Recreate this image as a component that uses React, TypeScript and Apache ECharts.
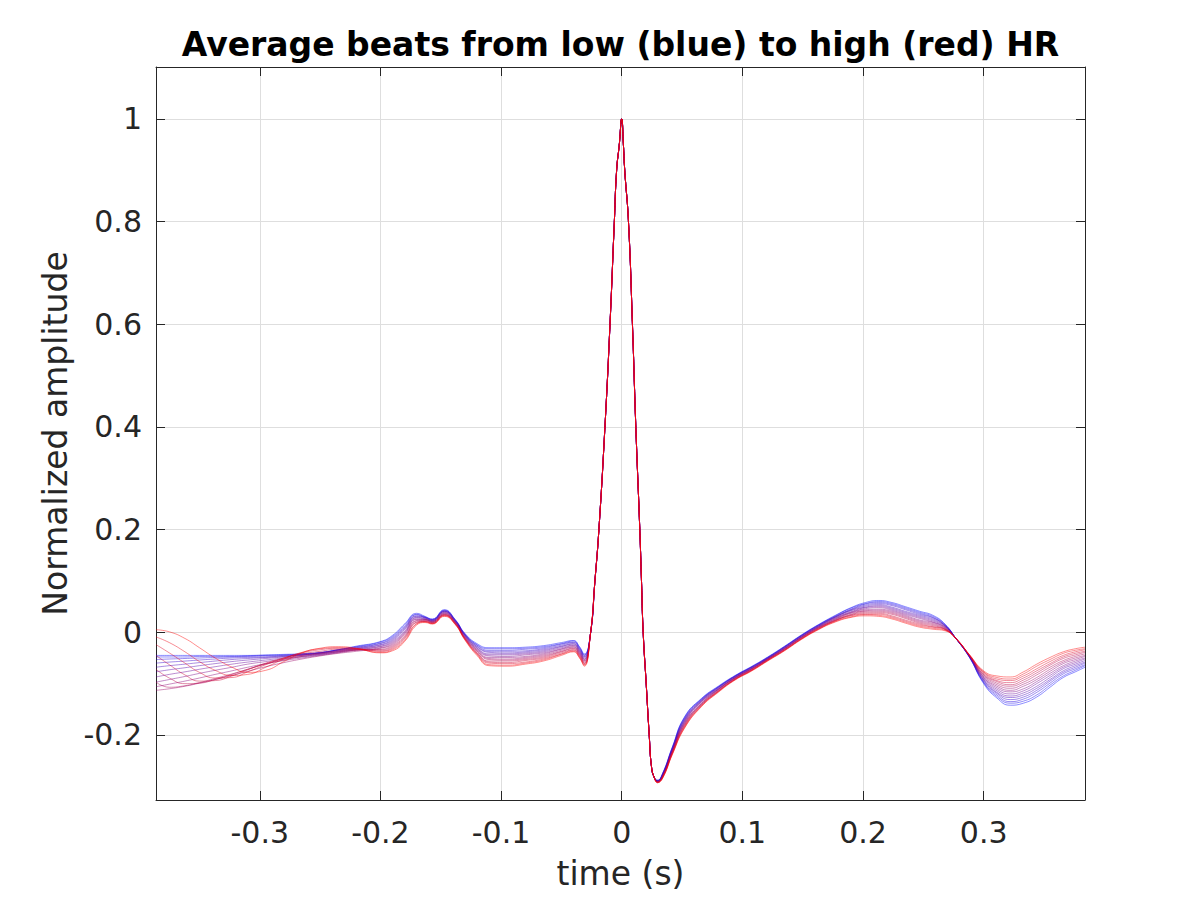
import React, { useEffect, useRef } from "react";
import * as echarts from "echarts";

// ---- axis extents and ticks ----
const X_MIN = -0.386;
const X_MAX = 0.384;
const Y_MIN = -0.3266;
const Y_MAX = 1.101;

// ---- time samples (s) ----
const PRE_T = [-0.386, -0.375, -0.362, -0.35, -0.337, -0.323, -0.31, -0.295, -0.28, -0.265, -0.25, -0.235, -0.22];
const P_T = [-0.2, -0.19, -0.18, -0.17, -0.163, -0.157, -0.147, -0.138, -0.13, -0.12, -0.11, -0.095, -0.08, -0.065, -0.05, -0.04, -0.035, -0.031];
const QRS_T = [-0.026, -0.0222, -0.0189, -0.0139, -0.0097, -0.0061, -0.0042, -0.002, 0, 0.0014, 0.0025, 0.0056, 0.0089, 0.0117, 0.015, 0.0164, 0.0178, 0.0203, 0.0228, 0.0247, 0.027];
const TAIL_T = [0.0297, 0.034, 0.042, 0.052, 0.066, 0.08, 0.094, 0.108, 0.121, 0.135, 0.149, 0.163, 0.177, 0.19, 0.202, 0.213, 0.224, 0.235, 0.247, 0.258, 0.268, 0.277, 0.288, 0.3, 0.311, 0.322, 0.333, 0.344, 0.355, 0.366, 0.376, 0.384];

// ---- amplitudes in thousandths, beat 0 = lowest HR (blue) ... beat 15 = highest HR (red) ----
const PRE_V = [
  [-45, -45, -45, -45, -45, -45, -45, -44, -43, -42, -40, -34, -27],
  [-48, -48, -48, -47, -47, -47, -46, -45, -44, -42, -39, -34, -28],
  [-53, -52, -51, -50, -49, -48, -47, -46, -45, -43, -40, -34, -29],
  [-60, -58, -56, -54, -52, -50, -49, -48, -46, -44, -40, -35, -30],
  [-68, -65, -62, -59, -56, -53, -51, -49, -47, -44, -41, -36, -31],
  [-77, -73, -69, -65, -61, -57, -54, -51, -48, -45, -42, -37, -32],
  [-87, -82, -77, -72, -67, -62, -58, -54, -50, -47, -43, -38, -33],
  [-97, -92, -86, -80, -74, -68, -62, -57, -52, -48, -44, -39, -34],
  [-106, -101, -95, -89, -82, -75, -68, -61, -55, -50, -45, -40, -35],
  [-113, -110, -105, -99, -92, -84, -76, -67, -59, -52, -46, -41, -37],
  [-97, -107, -104, -98, -90, -81, -72, -62, -54, -47, -42, -38, -35],
  [-72, -89, -100, -99, -92, -82, -72, -61, -52, -45, -40, -36, -34],
  [-45, -63, -83, -95, -94, -85, -73, -60, -50, -42, -37, -33, -33],
  [-24, -40, -60, -78, -89, -88, -77, -63, -50, -40, -34, -31, -32],
  [-9, -20, -38, -57, -74, -84, -82, -68, -52, -39, -32, -30, -32],
  [5, 1, -12, -30, -50, -68, -78, -74, -57, -40, -31, -28, -31],
];

const P_V = [
  [-18, -6, 16, 37, 31, 26, 44, 25, -2, -22, -30, -30, -29, -26, -20, -16, -28, -42],
  [-19, -8, 14, 35, 30, 25, 43, 24, -3, -24, -32, -32, -31, -28, -22, -17, -29, -44],
  [-21, -10, 11, 34, 29, 25, 42, 24, -4, -25, -35, -35, -33, -30, -23, -19, -31, -45],
  [-22, -12, 9, 32, 29, 24, 41, 23, -5, -27, -37, -37, -36, -32, -25, -20, -32, -47],
  [-24, -14, 7, 31, 28, 23, 41, 22, -5, -28, -39, -40, -38, -34, -27, -22, -34, -48],
  [-25, -16, 5, 29, 27, 23, 40, 22, -6, -30, -42, -42, -40, -36, -28, -23, -35, -50],
  [-27, -18, 2, 28, 26, 22, 39, 21, -7, -31, -44, -44, -42, -38, -30, -25, -37, -52],
  [-28, -20, 0, 26, 25, 21, 38, 20, -8, -33, -46, -47, -44, -40, -32, -26, -38, -53],
  [-30, -22, -2, 25, 25, 21, 37, 20, -9, -34, -49, -49, -47, -42, -33, -28, -40, -55],
  [-31, -24, -4, 23, 24, 20, 36, 19, -10, -36, -51, -52, -49, -44, -35, -29, -41, -56],
  [-33, -26, -7, 22, 23, 19, 35, 18, -11, -37, -53, -54, -51, -46, -37, -31, -43, -58],
  [-34, -28, -9, 20, 22, 19, 34, 18, -12, -39, -56, -56, -53, -48, -38, -32, -44, -60],
  [-36, -30, -11, 19, 21, 18, 34, 17, -12, -40, -58, -59, -55, -50, -40, -34, -46, -61],
  [-37, -32, -13, 17, 21, 17, 33, 16, -13, -42, -60, -61, -58, -52, -42, -35, -47, -63],
  [-39, -34, -16, 16, 20, 17, 32, 16, -14, -43, -63, -64, -60, -54, -43, -37, -49, -64],
  [-40, -36, -18, 14, 19, 16, 31, 15, -15, -45, -65, -66, -62, -56, -45, -38, -50, -66],
];

// QRS complex is common to all beats
const QRS_V = [-5, 100, 200, 400, 600, 800, 900, 950, 1000, 950, 900, 800, 600, 400, 200, 100, 0, -100, -200, -262, -283];

const TAIL_V = [
  [-288, -274, -223, -165, -129, -105, -84, -66, -48, -27, -5, 15, 33, 48, 58, 62, 58, 50, 41, 33, 16, -12, -48, -100, -128, -142, -138, -126, -107, -88, -77, -68],
  [-288, -275, -224, -166, -130, -106, -85, -67, -49, -28, -6, 14, 32, 47, 56, 60, 56, 48, 39, 31, 15, -12, -48, -98, -125, -138, -134, -122, -103, -85, -74, -65],
  [-289, -275, -225, -168, -131, -107, -85, -67, -49, -28, -6, 14, 31, 45, 55, 58, 54, 46, 37, 29, 14, -12, -47, -97, -122, -135, -130, -117, -99, -81, -71, -63],
  [-289, -276, -226, -169, -132, -107, -86, -68, -50, -29, -7, 13, 30, 44, 53, 56, 52, 44, 35, 28, 13, -12, -47, -95, -119, -131, -126, -113, -95, -78, -68, -60],
  [-289, -277, -227, -171, -133, -108, -86, -68, -50, -29, -7, 12, 30, 43, 51, 54, 49, 41, 33, 26, 13, -12, -47, -93, -117, -127, -122, -109, -92, -75, -65, -58],
  [-290, -277, -228, -172, -134, -109, -87, -69, -51, -30, -8, 12, 29, 42, 49, 52, 47, 39, 31, 24, 12, -12, -46, -92, -114, -124, -118, -105, -88, -71, -62, -55],
  [-290, -278, -229, -174, -135, -110, -88, -70, -51, -31, -9, 11, 28, 40, 48, 50, 45, 37, 29, 22, 11, -12, -46, -90, -111, -120, -114, -100, -84, -68, -59, -52],
  [-290, -279, -230, -175, -136, -111, -88, -70, -52, -31, -9, 10, 27, 39, 46, 48, 43, 35, 27, 20, 10, -12, -46, -88, -108, -116, -110, -96, -80, -65, -56, -50],
  [-291, -279, -231, -177, -138, -111, -89, -71, -52, -32, -10, 10, 26, 38, 44, 45, 41, 33, 24, 19, 9, -12, -45, -87, -105, -113, -105, -92, -76, -61, -53, -47],
  [-291, -280, -232, -178, -139, -112, -89, -71, -53, -32, -10, 9, 25, 37, 42, 43, 39, 31, 22, 17, 8, -12, -45, -85, -102, -109, -101, -88, -72, -58, -50, -45],
  [-291, -281, -233, -180, -140, -113, -90, -72, -53, -33, -11, 8, 24, 35, 41, 41, 37, 29, 20, 15, 7, -12, -45, -83, -99, -105, -97, -83, -68, -55, -47, -42],
  [-292, -281, -234, -181, -141, -114, -91, -73, -54, -34, -12, 8, 23, 34, 39, 39, 35, 27, 18, 13, 6, -12, -44, -82, -96, -102, -93, -79, -64, -51, -44, -39],
  [-292, -282, -235, -183, -142, -115, -91, -73, -54, -34, -12, 7, 23, 33, 37, 37, 32, 24, 16, 11, 6, -12, -44, -80, -94, -98, -89, -75, -61, -48, -41, -37],
  [-292, -283, -236, -184, -143, -115, -92, -74, -55, -35, -13, 6, 22, 32, 35, 35, 30, 22, 14, 10, 5, -12, -44, -78, -91, -94, -85, -71, -57, -45, -38, -34],
  [-293, -283, -237, -186, -144, -116, -92, -74, -55, -35, -13, 6, 21, 30, 34, 33, 28, 20, 12, 8, 4, -12, -43, -77, -88, -91, -81, -66, -53, -41, -35, -32],
  [-293, -284, -238, -187, -145, -117, -93, -75, -56, -36, -14, 5, 20, 29, 32, 31, 26, 18, 10, 6, 3, -12, -43, -75, -85, -87, -77, -62, -49, -38, -32, -29],
];

const TITLE = "Average beats from low (blue) to high (red) HR";
const X_NAME = "time (s)";
const Y_NAME = "Normalized amplitude";

const AX = "#262626";
const FONT = "'DejaVu Sans', 'Liberation Sans', sans-serif";

function beatColor(k: number, n: number) {
  const w = n > 1 ? k / (n - 1) : 0;
  return `rgb(${Math.round(255 * w)},0,${Math.round(255 * (1 - w))})`;
}

function fmtX(v: number) {
  const r = Math.round(v * 10);
  if (Math.abs(v * 10 - r) > 1e-6) return "";
  return r === 0 ? "0" : (r / 10).toFixed(1);
}

function fmtY(v: number) {
  const r = Math.round(v * 5);
  if (Math.abs(v * 5 - r) > 1e-6) return "";
  const val = r / 5;
  if (val === 0) return "0";
  if (Math.abs(val - 1) < 1e-9) return "1";
  return val.toFixed(1);
}

export default function App() {
  const ref = useRef<HTMLDivElement>(null);

  useEffect(() => {
    document.body.style.margin = "0";
    if (!ref.current) return;
    const chart = echarts.init(ref.current, undefined, { renderer: "svg" });

    const times = [...PRE_T, ...P_T, ...QRS_T, ...TAIL_T];
    const n = PRE_V.length;
    const series = PRE_V.map((pre, k) => {
      const vals = [...pre, ...P_V[k], ...QRS_V, ...TAIL_V[k]];
      return {
        type: "line",
        name: "beat" + k,
        data: times.map((t, i) => [t, vals[i] / 1000]),
        showSymbol: false,
        symbol: "none",
        smooth: 0.5,
        clip: true,
        silent: true,
        lineStyle: { width: 0.5, color: beatColor(k, n), opacity: 0.9 },
        z: 2 + k * 0.01,
      };
    });

    const axisLine = { show: true, onZero: false, lineStyle: { color: AX, width: 1 } };
    const axisTick = { show: true, inside: true, length: 9, lineStyle: { color: AX, width: 1 } };
    const grid = { color: "#dedede", width: 1 };

    chart.setOption({
      animation: false,
      grid: { left: 156, top: 67, width: 929, height: 733, containLabel: false },
      xAxis: [
        {
          type: "value",
          min: X_MIN,
          max: X_MAX,
          splitNumber: 8,
          position: "bottom",
          axisLine,
          axisTick,
          axisLabel: { formatter: fmtX, fontSize: 30, fontFamily: FONT, color: AX, margin: 17 },
          splitLine: { show: true, lineStyle: grid },
        },
        {
          type: "value",
          min: X_MIN,
          max: X_MAX,
          splitNumber: 8,
          position: "top",
          axisLine,
          axisTick,
          axisLabel: { show: false },
          splitLine: { show: false },
        },
      ],
      yAxis: [
        {
          type: "value",
          min: Y_MIN,
          max: Y_MAX,
          splitNumber: 7,
          position: "left",
          axisLine,
          axisTick,
          axisLabel: { formatter: fmtY, fontSize: 30, fontFamily: FONT, color: AX, margin: 14 },
          splitLine: { show: true, lineStyle: grid },
        },
        {
          type: "value",
          min: Y_MIN,
          max: Y_MAX,
          splitNumber: 7,
          position: "right",
          axisLine,
          axisTick,
          axisLabel: { show: false },
          splitLine: { show: false },
        },
      ],
      graphic: [
        {
          type: "text",
          x: 620.5,
          y: 44,
          style: { text: TITLE, fill: "#000", font: `bold 33px ${FONT}`, textAlign: "center", textVerticalAlign: "middle" },
        },
        {
          type: "text",
          x: 620.5,
          y: 873,
          style: { text: X_NAME, fill: AX, font: `33px ${FONT}`, textAlign: "center", textVerticalAlign: "middle" },
        },
        {
          type: "text",
          x: 55,
          y: 433.5,
          rotation: Math.PI / 2,
          style: { text: Y_NAME, fill: AX, font: `33px ${FONT}`, textAlign: "center", textVerticalAlign: "middle" },
        },
      ],
      series,
    });

    return () => chart.dispose();
  }, []);

  return <div ref={ref} style={{ width: 1200, height: 900 }} />;
}
